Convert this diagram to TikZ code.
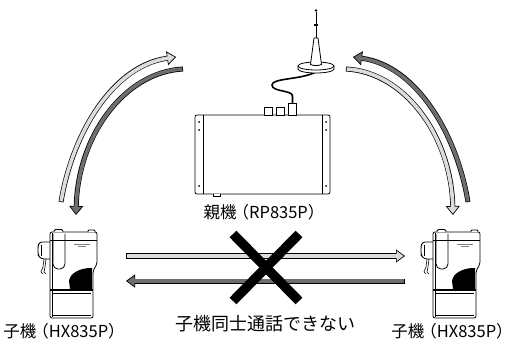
\documentclass[tikz,border=0pt]{standalone}
\usepackage{fontspec}
\setmainfont{Noto Sans CJK JP}
\usetikzlibrary{arrows.meta}
\definecolor{lightc}{HTML}{DCDCDC}
\definecolor{darkc}{HTML}{6E6E6E}
\tikzset{
  outline/.style={draw=black, line width=0.8pt},
  label/.style={inner sep=0pt, font=\fontsize{16.5}{16.5}\selectfont},
  cross/.style={line width=9.5pt, black},
}
\newcommand\lp{\kern-4pt（}
\newcommand\rp{）\kern-4pt}
% fat outlined arrow: #1 head width, #2 fill colour, #3 path
\newcommand\fatarrow[3][14pt]{%
  \draw[line width=0.5pt, -{Triangle[length=9pt,width=#1,fill=#2,line width=0.7pt]}] #3;
  \draw[line width=5pt, black, shorten >=9pt] #3;
  \draw[line width=3.6pt, #2, shorten >=8pt, shorten <=0.7pt] #3;
}
\newcommand\handset{%
  % clip and cord
  \draw[outline, fill=white, rounded corners=3pt] (0,11) -- (-11,11) -- (-12,16) -- (-12,24) -- (-9,28) -- (0,28);
  \draw[line width=0.6pt] (-9,14) -- (-9,25);
  \draw[line width=0.6pt] (-6,28) -- (-7,36) -- (-9,41) -- (-7,43);
  \draw[line width=0.6pt] (-4,28) -- (-5,36) -- (-6,41) -- (-4,43);
  % body
  \draw[outline, fill=white, rounded corners=2pt] (0,1) -- (0,87) -- (43,87) -- (43,40) -- (47,33) -- (47,1) -- cycle;
  \draw[line width=0.6pt] (2.5,2) -- (2.5,86);
  % knobs
  \draw[outline, fill=white, rounded corners=1.5pt] (4,1) -- (4,-1.5) -- (13,-1.5) -- (13,1);
  \draw[outline, fill=white, rounded corners=1pt] (38,1) -- (38,-1) -- (45,-1) -- (45,1);
  % band line
  \draw[line width=1pt] (0,10) -- (47,10);
  % oval window
  \draw[outline, rounded corners=5pt] (3,3) -- (3,38) -- (15,38) -- (15,3);
  % tiny print
  \draw[gray, line width=0.6pt] (24,13) -- (40,13);
  \draw[gray, line width=0.6pt] (28,15.5) -- (36,15.5);
  % dark patch
  \fill[black] (41,37) .. controls (30,37) and (20,42) .. (19,50) -- (20,58) -- (42,58) -- (42,37) -- cycle;
  % lower section
  \draw[line width=1.6pt] (0,59) -- (43,59);
  \draw[line width=0.6pt] (3,62) -- (41,62);
  \draw[line width=0.6pt] (3,84) -- (41,84);
}
\begin{document}
\begin{tikzpicture}[x=1pt,y=-1pt]
\useasboundingbox (0,0) rectangle (513,344);

% ---------- base unit ----------
\draw[outline, fill=white, rounded corners=2pt] (195,115) rectangle (330,194);
\draw[line width=0.6pt] (203,115) -- (203,194) (322,115) -- (322,194);
\foreach \yy in {122,130,186}{
  \fill (199,\yy) circle (1pt);
  \fill (326,\yy) circle (1pt);
}
\draw[outline, fill=white] (213,194) -- (213,196.5) -- (220,196.5) -- (220,194);
\draw[outline, fill=white] (264,115) rectangle (272,107);
\draw[outline, fill=white] (276,115) rectangle (284,107);
\draw[outline, fill=white] (288.5,115) rectangle (296.5,103);
\coordinate (plug) at (292.5,103);
\coordinate (antfoot) at (316,72);
% cable
\draw[line width=1.6pt] (plug) -- (292.5,96) .. controls (292.5,90) and (272,92) .. (272,85)
  .. controls (272,78) and (300,80) .. (antfoot);
% antenna disc
\draw[outline, fill=white] (298,66) -- (298,69) arc[start angle=180, end angle=0, x radius=18, y radius=4] -- (334,66);
\draw[outline, fill=white] (316,66) ellipse[x radius=18, y radius=4];
% mast
\draw[outline, fill=white] (310.5,64.5) -- (314,38) -- (318,38) -- (321.5,64.5) .. controls (318,66) and (314,66) .. cycle;
\draw[line width=1pt] (316,38) -- (316,12);
\draw[line width=1.4pt] (314,25) -- (318,25);
\fill (316,10.5) circle (1.4pt);
\node[label] (base) at (262,212) {親機\lp RP835P\rp};

% ---------- handsets ----------
\begin{scope}[shift={(50,231)}]\handset\end{scope}
\begin{scope}[shift={(433,231)}]\handset\end{scope}
\node[label] (left) at (62,331) {子機\lp HX835P\rp};
\node[label] (right) at (450,331) {子機\lp HX835P\rp};

% ---------- curved arrows ----------
\coordinate (la1) at (61,202);  \coordinate (la2) at (176,57);
\coordinate (ld1) at (183,69);  \coordinate (ld2) at (76,215);
\coordinate (rd1) at (468,202); \coordinate (rd2) at (353,57);
\coordinate (rl1) at (346,69);  \coordinate (rl2) at (453,215);
\fatarrow{lightc}{(la1) .. controls (72,135) and (112,66) .. (la2)}
\fatarrow{darkc}{(ld1) .. controls (125,72) and (78,135) .. (ld2)}
\fatarrow{darkc}{(rd1) .. controls (457,135) and (417,66) .. (rd2)}
\fatarrow{lightc}{(rl1) .. controls (404,72) and (451,135) .. (rl2)}

% ---------- straight arrows ----------
\coordinate (h1) at (126,256); \coordinate (h2) at (405,256);
\coordinate (h3) at (405,281); \coordinate (h4) at (126,281);
\fatarrow[13pt]{lightc}{(h1) -- (h2)}
\fatarrow[13pt]{darkc}{(h3) -- (h4)}

% ---------- cross ----------
\coordinate (x1) at (233,234); \coordinate (x2) at (299,301);
\coordinate (x3) at (299,234); \coordinate (x4) at (233,301);
\draw[cross] (x1) -- (x2);
\draw[cross] (x3) -- (x4);
\node[label, font=\fontsize{18}{18}\selectfont] (note) at (265,324) {子機同士通話できない};
\end{tikzpicture}
\end{document}
